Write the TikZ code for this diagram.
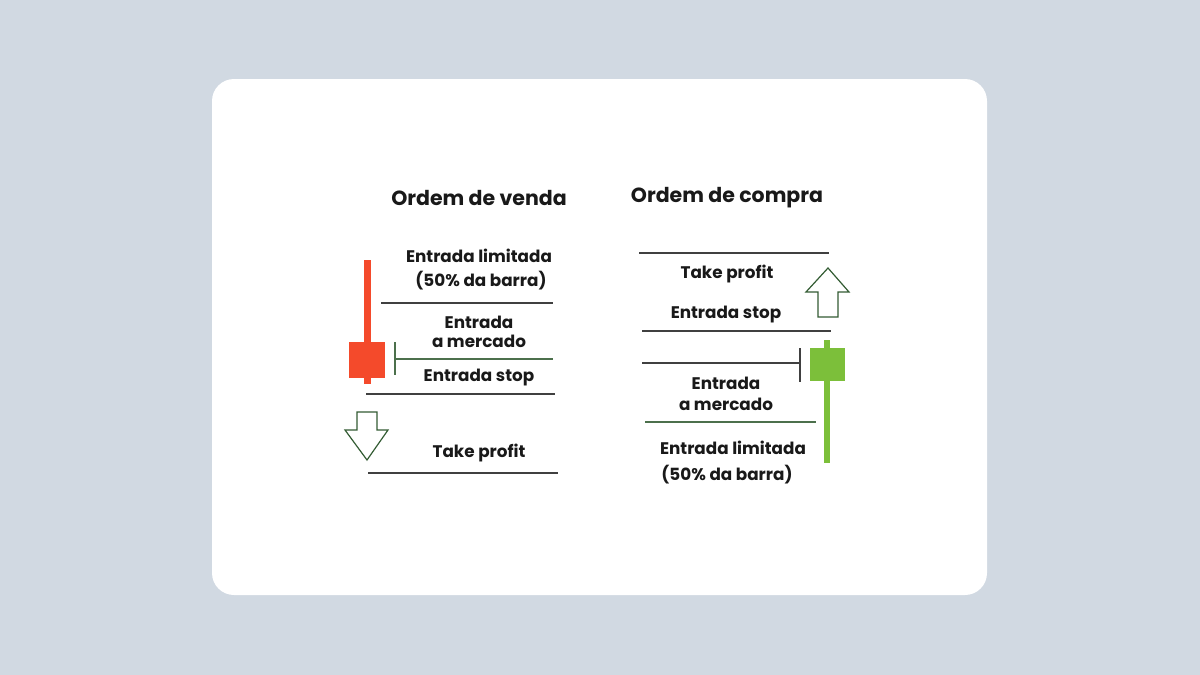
\documentclass[tikz,border=0pt]{standalone}
\usepackage{fontspec}
\setmainfont{Poppins}
\begin{document}
\begin{tikzpicture}[x=1pt,y=-1pt,
  lbl/.style={font=\fontsize{16.8}{19}\selectfont\bfseries, text=black!90},
  ttl/.style={font=\fontsize{20.5}{23}\selectfont\bfseries, text=black!90},
  gline/.style={draw=black!75, line width=1.5pt},
  mline/.style={draw=green!20!black!70, line width=1.5pt}]
\definecolor{bg}{HTML}{D1D9E2}
\definecolor{red1}{HTML}{F44A2B}
\definecolor{grn1}{HTML}{7CBF3A}
\fill[bg] (0,0) rectangle (1200,675);
\useasboundingbox (0,0) rectangle (1200,675);
\fill[white, rounded corners=22pt] (212,79) rectangle (987,595);
% titles
\node[ttl] (t1) at (479,198) {Ordem de venda};
\node[ttl] (t2) at (727,198) {Ordem de compra};
% left candle
\fill[red1] (364,260) rectangle (371,384);
\fill[red1] (349,342) rectangle (385,378);
\node[lbl] (l1) at (479,256) {Entrada limitada};
\node[lbl] (l2) at (481,281) {(50\% da barra)};
\draw[gline] (381,303) -- (553,303);
\node[lbl] (l3) at (479,322) {Entrada};
\node[lbl] (l4) at (479,341) {a mercado};
\draw[mline] (395,359) -- (553,359);
\draw[mline] (395,342) -- (395,375);
\node[lbl] (l5) at (479,378) {Entrada stop};
\draw[gline] (366,394) -- (555,394);
\draw[line width=1.2pt, draw=green!20!black!80, fill=white] (357,412) -- (377,412) -- (377,430) -- (388,430) -- (367,460) -- (345,430) -- (357,430) -- cycle;
\node[lbl] (l6) at (479,453) {Take profit};
\draw[gline] (368,473) -- (558,473);
% right
\draw[gline] (639,253) -- (829,253);
\node[lbl] (r1) at (727,274) {Take profit};
\draw[line width=1.2pt, draw=green!20!black!80, fill=white] (818,317) -- (838,317) -- (838,292) -- (849,292) -- (828,268) -- (806,292) -- (818,292) -- cycle;
\node[lbl] (r2) at (726,315) {Entrada stop};
\draw[gline] (642,331) -- (831,331);
\draw[gline] (642,363) -- (800,363);
\draw[gline] (800,348) -- (800,382);
\fill[grn1] (824,340) rectangle (830,463);
\fill[grn1] (810,348) rectangle (845,381);
\node[lbl] (r3) at (726,383) {Entrada};
\node[lbl] (r4) at (726,404) {a mercado};
\draw[mline] (645,422) -- (816,422);
\node[lbl] (r5) at (733,448) {Entrada limitada};
\node[lbl] (r6) at (727,475) {(50\% da barra)};
\end{tikzpicture}
\end{document}
